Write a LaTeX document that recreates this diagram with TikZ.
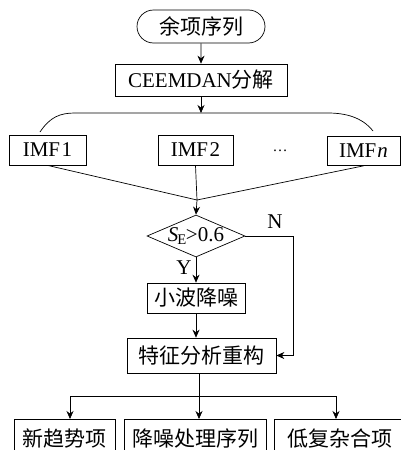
\documentclass[tikz,border=0pt]{standalone}
\usepackage{fontspec}
\setmainfont{Liberation Serif}
\newfontfamily\cjk{Noto Sans CJK SC}
\usetikzlibrary{arrows.meta,shapes.misc,shapes.geometric}
\begin{document}
\begin{tikzpicture}[x=1pt,y=-1pt,
  line width=0.7pt,
  box/.style={draw, rectangle, inner sep=0pt, font=\fontsize{21}{24}\selectfont},
  term/.style={draw, rounded rectangle, inner sep=0pt, font=\fontsize{21}{24}\selectfont},
  dec/.style={draw, diamond, aspect=2.33, inner sep=0pt, font=\fontsize{21}{24}\selectfont},
  lbl/.style={inner sep=0pt, font=\fontsize{21}{24}\selectfont},
  arr/.style={-{Stealth[length=8pt,width=7pt]}}]
\clip (0,0) rectangle (401,450);
\fill[white] (0,0) rectangle (401,450);
% nodes
\node[term, minimum width=128pt, minimum height=33pt] (start) at (201,26.5) {{\cjk 余项序列}};
\node[box, minimum width=172pt, minimum height=32pt] (ceem) at (201,80) {CEEMDAN{\cjk 分解}};
\coordinate (split) at (201,113);
\node[box, minimum width=77pt, minimum height=30pt] (imf1) at (47.5,150) {IMF\kern1.5pt1};
\node[box, minimum width=75pt, minimum height=30pt] (imf2) at (195.5,150) {IMF\kern1.5pt2};
\node[box, minimum width=73pt, minimum height=29pt] (imfn) at (363.5,151) {IMF\kern1pt\textit{n}};
\node[inner sep=0pt, anchor=base, font=\fontsize{15}{18}\selectfont] (dots) at (280,151.5) {…};
\coordinate (merge) at (197,200);
\node[dec, minimum width=98pt, minimum height=42pt] (dia) at (196,236) {\textit{S}\kern-1pt\textsubscript{E}\kern-1pt>0.6};
\node[lbl] (nlab) at (275,222) {N};
\node[lbl] (ylab) at (184,268) {Y};
\node[box, minimum width=98pt, minimum height=30pt] (wav) at (196,298) {{\cjk 小波降噪}};
\node[box, minimum width=149pt, minimum height=35pt] (feat) at (201.5,355.5) {{\cjk 特征分析重构}};
\coordinate (fork) at (199,396);
\coordinate (forkL) at (70,396);
\coordinate (forkR) at (336,396);
\node[box, minimum width=101pt, minimum height=38pt, anchor=north] (b1) at (64.5,419) {{\cjk 新趋势项}};
\node[box, minimum width=142pt, minimum height=38pt, anchor=north] (b2) at (195,419) {{\cjk 降噪处理序列}};
\node[box, minimum width=132pt, minimum height=38pt, anchor=north west] (b3) at (274,419) {{\cjk 低复杂合项}};
% connectors
\draw[arr] (start) -- (ceem);
\draw[arr] (ceem) -- (split);
\draw (40,132) .. controls (50,117) and (60,113) .. (75,113) -- (328,113) .. controls (345,113) and (362,117) .. (373,131);
\draw (imf1.south) -- (merge);
\draw (imf2.south) -- (merge);
\draw (imfn.south) -- (merge);
\draw[arr] (merge) -- (dia.north);
\draw[arr] (dia.south) -- (wav.north);
\draw[arr] (wav.south) -- (wav.south |- feat.north);
\draw[arr] (dia.east) -- (293,236) |- (feat.east);
\draw (feat.south -| fork) -- (fork);
\draw (forkL) -- (forkR);
\draw[arr] (forkL) -- (forkL |- b1.north);
\draw[arr] (fork) -- (fork |- b2.north);
\draw[arr] (forkR) -- (forkR |- b3.north);
\end{tikzpicture}
\end{document}
